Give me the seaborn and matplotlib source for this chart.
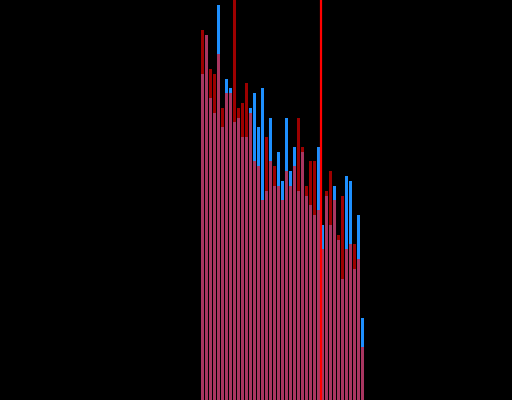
import matplotlib
matplotlib.use("Agg")
import matplotlib.pyplot as plt
import seaborn as sns
import numpy as np
import pandas as pd

bins = list(range(41))
blue_counts = [326, 365, 302, 287, 395, 273, 321, 312, 278, 282,
               263, 263, 292, 307, 273, 312, 209, 282, 214, 248,
               219, 282, 229, 253, 209, 248, 204, 195, 185, 253,
               175, 204, 175, 214, 160, 121, 224, 219, 131, 185, 82]
red_counts = [370, 365, 331, 326, 346, 292, 307, 307, 415, 292,
              297, 317, 287, 239, 234, 200, 263, 239, 234, 214,
              200, 229, 214, 234, 282, 253, 214, 239, 239, 190,
              151, 209, 229, 200, 165, 204, 151, 156, 156, 141, 53]
marker_x = 29.5

df = pd.DataFrame({"bin": bins, "blue": blue_counts, "red": red_counts})

sns.set_style("dark")
fig = plt.figure(figsize=(5.12, 4.0), dpi=100, facecolor="black")
ax = fig.add_axes([0, 0, 1, 1])
ax.set_facecolor("black")

sns.barplot(data=df, x="bin", y="blue", color="#1e90ff", width=0.75,
            native_scale=True, linewidth=0, saturation=1, ax=ax)
sns.barplot(data=df, x="bin", y="red", color="#ff0000", width=0.75,
            native_scale=True, linewidth=0, saturation=1, alpha=0.62, ax=ax)
ax.axvline(marker_x, color="#ff0000", lw=1.6)

ax.set_xlim(-202.5 / 4, (512 - 202.5) / 4)
ax.set_ylim(0, 400)
ax.axis("off")
fig.savefig("out.png", dpi=100, facecolor="black")
